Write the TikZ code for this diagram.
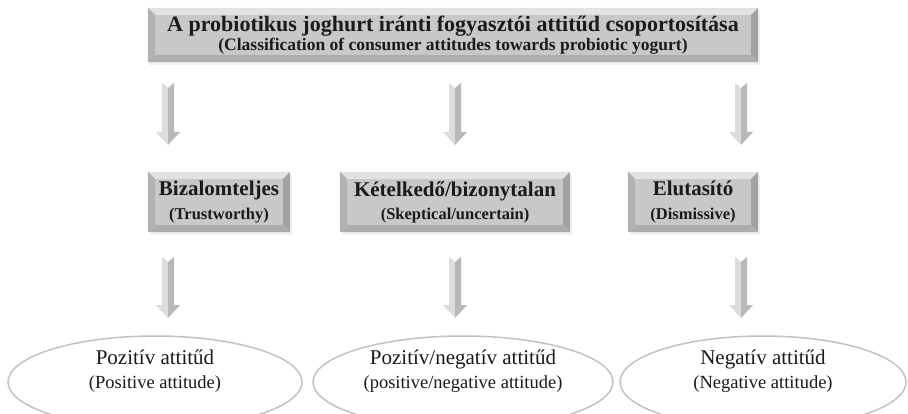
\documentclass[tikz,border=0pt]{standalone}
\usepackage{fontspec}
\setmainfont{Liberation Serif}
\usetikzlibrary{calc,shapes.geometric}
\definecolor{boxface}{HTML}{C8C8C8}
\definecolor{bevtop}{HTML}{E2E2E2}
\definecolor{bevleft}{HTML}{B2B2B2}
\definecolor{bevright}{HTML}{A2A2A2}
\definecolor{bevbot}{HTML}{ADADAD}
\definecolor{arrL}{HTML}{DCDCDC}
\definecolor{arrR}{HTML}{B8B8B8}
\definecolor{ellline}{HTML}{C2C2C2}
\definecolor{txt}{HTML}{1A1A1A}
\tikzset{
  graybox/.style={fill=boxface, inner sep=0pt, align=center, text=txt},
  oval/.style={ellipse, draw=ellline, line width=1.5pt, inner sep=0pt},
  ovaltext/.style={align=center, text=txt, inner sep=0pt}
}
\newcommand{\bevel}[2]{% node name, depth
  \fill[bevtop] (#1.north west) -- (#1.north east) -- ([shift={(-#2,#2)}]#1.north east) -- ([shift={(#2,#2)}]#1.north west) -- cycle;
  \fill[bevleft] (#1.north west) -- ([shift={(#2,#2)}]#1.north west) -- ([shift={(#2,-#2)}]#1.south west) -- (#1.south west) -- cycle;
  \fill[bevright] (#1.north east) -- ([shift={(-#2,#2)}]#1.north east) -- ([shift={(-#2,-#2)}]#1.south east) -- (#1.south east) -- cycle;
  \fill[bevbot] (#1.south west) -- ([shift={(#2,-#2)}]#1.south west) -- ([shift={(-#2,-#2)}]#1.south east) -- (#1.south east) -- cycle;
}
\newcommand{\blockarrow}[2]{% start coord, end coord
  \fill[arrL] ($(#1)+(-6,0)$) -- ($(#1)+(0,5)$) -- (#2) -- ($(#2)+(-12,-13)$) -- ($(#2)+(-6,-13)$) -- cycle;
  \fill[arrR] ($(#1)+(6,0)$) -- ($(#1)+(0,5)$) -- (#2) -- ($(#2)+(12,-13)$) -- ($(#2)+(6,-13)$) -- cycle;
}
\newcommand{\twolines}[5]{% big size, text1, small size, text2, extra gap
  \begin{tabular}{@{}c@{}}\fontsize{#1}{#1}\selectfont #2\\[#5]\fontsize{#3}{#3}\selectfont #4\end{tabular}}
\begin{document}
\begin{tikzpicture}[x=1pt,y=-1pt]
\clip (0,0) rectangle (908,414);
\fill[white] (0,0) rectangle (908,414);
% shadows
\fill[gray!12] (149,10) rectangle (760,65);
\fill[gray!12] (150,175) rectangle (292,235);
\fill[gray!12] (342,175) rectangle (572,235);
\fill[gray!12] (630,175) rectangle (760,235);
% top box
\node[graybox, minimum width=610pt, minimum height=54pt, font=\bfseries] (top) at (453,35)
  {\twolines{22}{A probiotikus joghurt iránti fogyasztói attitűd csoportosítása}{17.5}{(Classification of consumer attitudes towards probiotic yogurt)}{3pt}};
% middle boxes
\node[graybox, minimum width=142pt, minimum height=60pt, font=\bfseries] (b1) at (219,202)
  {\twolines{21}{Bizalomteljes}{16.5}{(Trustworthy)}{8pt}};
\node[graybox, minimum width=230pt, minimum height=60pt, font=\bfseries] (b2) at (455,202)
  {\twolines{21}{Kételkedő/bizonytalan}{16.5}{(Skeptical/uncertain)}{8pt}};
\node[graybox, minimum width=130pt, minimum height=60pt, font=\bfseries] (b3) at (693,202)
  {\twolines{21}{Elutasító}{16.5}{(Dismissive)}{8pt}};
\bevel{top}{7}
\bevel{b1}{7}
\bevel{b2}{7}
\bevel{b3}{7}
% arrow coordinates
\coordinate (a1s) at (168,83);  \coordinate (a1e) at (168,145);
\coordinate (a2s) at (455,83);  \coordinate (a2e) at (455,145);
\coordinate (a3s) at (741,83);  \coordinate (a3e) at (741,145);
\coordinate (c1s) at (168,257); \coordinate (c1e) at (168,318);
\coordinate (c2s) at (455,257); \coordinate (c2e) at (455,318);
\coordinate (c3s) at (741,257); \coordinate (c3e) at (741,318);
\blockarrow{a1s}{a1e}
\blockarrow{a2s}{a2e}
\blockarrow{a3s}{a3e}
\blockarrow{c1s}{c1e}
\blockarrow{c2s}{c2e}
\blockarrow{c3s}{c3e}
% ellipses
\node[oval, minimum width=294pt, minimum height=92pt] (e1) at (155,382) {};
\node[oval, minimum width=300pt, minimum height=92pt] (e2) at (463,382) {};
\node[oval, minimum width=286pt, minimum height=92pt] (e3) at (763,382) {};
\node[ovaltext] (t1) at (155,371)
  {\twolines{21}{Pozitív attitűd}{18.5}{(Positive attitude)}{8pt}};
\node[ovaltext] (t2) at (463,371)
  {\twolines{21}{Pozitív/negatív attitűd}{18.5}{(positive/negative attitude)}{8pt}};
\node[ovaltext] (t3) at (763,371)
  {\twolines{21}{Negatív attitűd}{18.5}{(Negative attitude)}{8pt}};
\end{tikzpicture}
\end{document}
